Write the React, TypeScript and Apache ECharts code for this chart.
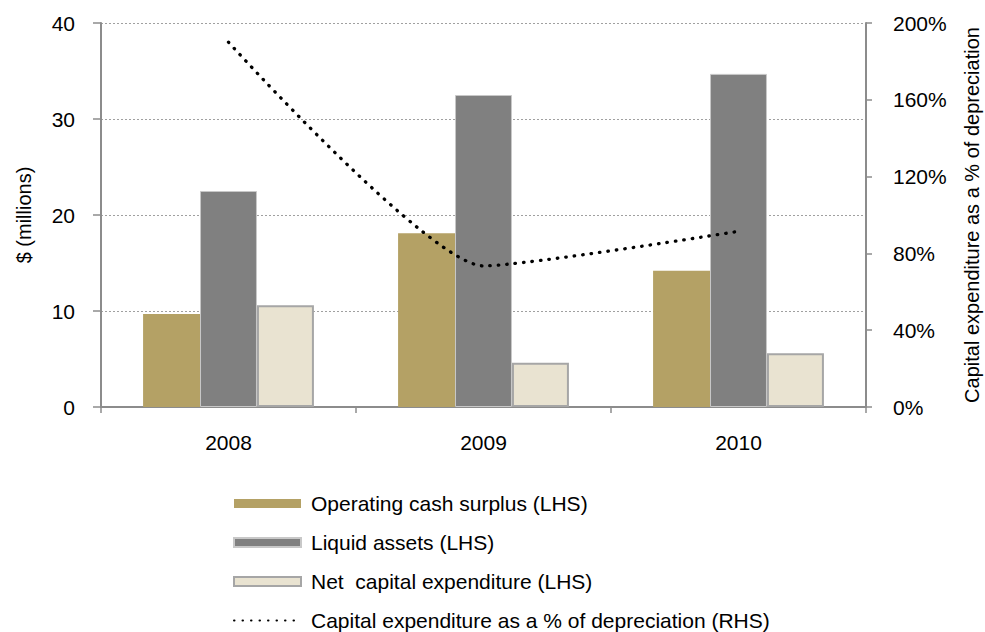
import React, { useEffect, useRef } from "react";
import * as echarts from "echarts";

const categories = ["2008", "2009", "2010"];
const operatingCashSurplus = [9.7, 18.1, 14.2];
const liquidAssets = [22.5, 32.5, 34.7];
const netCapitalExpenditure = [10.6, 4.6, 5.6];
const capexPctDepreciation = [190, 73.5, 91.5];

const names = [
  "Operating cash surplus (LHS)",
  "Liquid assets (LHS)",
  "Net  capital expenditure (LHS)",
  "Capital expenditure as a % of depreciation (RHS)",
];

const FONT = "'Liberation Sans', Arial, sans-serif";
const AXIS_GRAY = "#8c8c8c";

export default function App() {
  const ref = useRef<HTMLDivElement>(null);
  useEffect(() => {
    if (!ref.current) return;
    const chart = echarts.init(ref.current, null, { renderer: "svg" });
    chart.setOption({
      animation: false,
      backgroundColor: "#ffffff",
      textStyle: { fontFamily: FONT },
      grid: { left: 101, right: 119, top: 23, bottom: 225, containLabel: false, outerBoundsMode: "none" },
      legend: {
        orient: "vertical",
        left: 233,
        top: 493,
        padding: 0,
        itemWidth: 67,
        itemHeight: 9,
        itemGap: 18,
        textStyle: { fontSize: 21, color: "#000", fontFamily: FONT, padding: [0, 0, 0, 5] },
        data: [
          { name: names[0], icon: "rect" },
          { name: names[1], icon: "rect" },
          { name: names[2], icon: "rect" },
          { name: names[3], itemStyle: { opacity: 0 } },
        ],
      },
      xAxis: {
        type: "category",
        data: categories,
        axisLine: { lineStyle: { color: AXIS_GRAY, width: 2 } },
        axisTick: { show: true, length: 6, interval: 0, lineStyle: { color: AXIS_GRAY, width: 1.5 } },
        axisLabel: { color: "#000", fontSize: 21, margin: 25, fontFamily: FONT },
        splitLine: { show: false },
      },
      yAxis: [
        {
          type: "value",
          min: 0,
          max: 40,
          interval: 10,
          name: "$ (millions)",
          nameLocation: "middle",
          nameRotate: 90,
          nameGap: 67,
          nameTextStyle: { fontSize: 20, color: "#000", fontFamily: FONT },
          axisLine: { show: true, lineStyle: { color: AXIS_GRAY, width: 2 } },
          axisTick: { show: true, length: 8, lineStyle: { color: AXIS_GRAY, width: 1.5 } },
          axisLabel: { color: "#000", fontSize: 21, margin: 26, fontFamily: FONT },
          splitLine: { show: true, lineStyle: { color: "#a0a0a0", type: [2, 2], width: 1 } },
        },
        {
          type: "value",
          min: 0,
          max: 200,
          interval: 40,
          position: "right",
          name: "Capital expenditure as a % of depreciation",
          nameLocation: "middle",
          nameRotate: 90,
          nameGap: 96,
          nameTextStyle: { fontSize: 20, color: "#000", fontFamily: FONT },
          axisLine: { show: true, lineStyle: { color: AXIS_GRAY, width: 2 } },
          axisTick: { show: true, length: 6, lineStyle: { color: AXIS_GRAY, width: 1.5 } },
          axisLabel: { color: "#000", fontSize: 21, margin: 27, formatter: "{value}%", fontFamily: FONT },
          splitLine: { show: false },
        },
      ],
      series: [
        {
          name: names[0],
          type: "bar",
          yAxisIndex: 0,
          data: operatingCashSurplus,
          barGap: "0%",
          barCategoryGap: "33%",
          itemStyle: { color: "#b4a165" },
        },
        {
          name: names[1],
          type: "bar",
          yAxisIndex: 0,
          data: liquidAssets,
          barGap: "0%",
          barCategoryGap: "33%",
          itemStyle: { color: "#808080", borderColor: "#c8c8c8", borderWidth: 1 },
        },
        {
          name: names[2],
          type: "bar",
          yAxisIndex: 0,
          data: netCapitalExpenditure,
          barGap: "0%",
          barCategoryGap: "33%",
          itemStyle: { color: "#e9e3d1", borderColor: "#a6a6a6", borderWidth: 2 },
        },
        {
          name: names[3],
          type: "line",
          yAxisIndex: 1,
          data: capexPctDepreciation,
          smooth: 0.18,
          symbol: "none",
          showSymbol: false,
          itemStyle: { color: "#000" },
          lineStyle: { color: "#000", width: 3.3, type: [0.5, 8], cap: "round" },
          z: 5,
        },
      ],
    });
    return () => chart.dispose();
  }, []);
  return <div ref={ref} style={{ width: 985, height: 632, position: "absolute", left: 0, top: 0 }} />;
}
